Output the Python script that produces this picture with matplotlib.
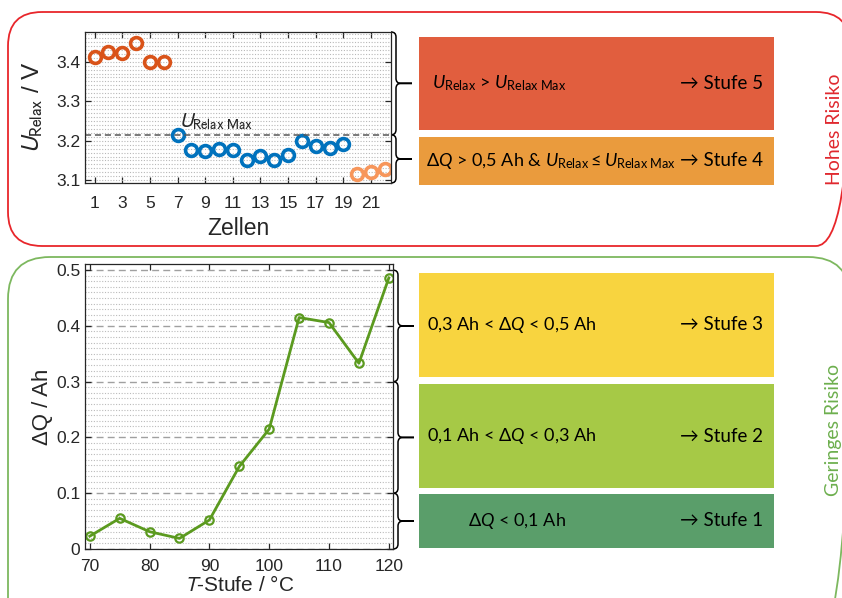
import numpy as np
import matplotlib.pyplot as plt
from matplotlib.patches import FancyBboxPatch, Rectangle, PathPatch
from matplotlib.path import Path

plt.rcParams["font.family"] = ["Liberation Sans", "DejaVu Sans"]
plt.rcParams["mathtext.fontset"] = "custom"
plt.rcParams["mathtext.rm"] = "Lato"
plt.rcParams["mathtext.it"] = "Lato:italic"

# Daten: U_Relax pro Zelle
zellen_hoch = [1, 2, 3, 4, 5, 6]
u_hoch = [3.411, 3.425, 3.421, 3.446, 3.398, 3.399]
zellen_mitte = [7, 8, 9, 10, 11, 12, 13, 14, 15, 16, 17, 18, 19]
u_mitte = [3.214, 3.176, 3.174, 3.180, 3.176, 3.152, 3.161, 3.151, 3.164,
           3.200, 3.187, 3.181, 3.192]
zellen_tief = [20, 21, 22]
u_tief = [3.116, 3.120, 3.128]
u_relax_max = 3.215

# Daten: Delta Q über T-Stufe
t_stufe = [70, 75, 80, 85, 90, 95, 100, 105, 110, 115, 120]
delta_q = [0.023, 0.055, 0.031, 0.019, 0.052, 0.148, 0.215, 0.415, 0.406, 0.333, 0.486]
dq_grenzen = [0.5, 0.3, 0.1, 0.0]

W, H = 842, 598
fig = plt.figure(figsize=(W / 100, H / 100), dpi=100)

# Overlay in Pixelkoordinaten (y nach unten)
ov = fig.add_axes([0, 0, 1, 1], zorder=0)
ov.set_xlim(0, W)
ov.set_ylim(H, 0)
ov.axis("off")

dunkel = "#262626"


def style_axes(ax, xpad):
    ax.tick_params(which="both", direction="in", top=True, right=True,
                   labelsize=12.5, colors=dunkel, width=0.9)
    ax.tick_params(which="major", length=4)
    ax.tick_params(which="minor", length=0)
    ax.tick_params(axis="x", pad=xpad)
    for s in ax.spines.values():
        s.set_color(dunkel)
        s.set_linewidth(0.9)


# 1. U_Relax über Zellen
ax1 = fig.add_axes([85 / W, 1 - 183 / H, 306 / W, 151 / H], zorder=1)
mk = dict(ls="none", marker="o", mfc="none", mew=2.6, ms=8.5)
ax1.plot(zellen_hoch, u_hoch, mec="#D95319", **mk)
ax1.plot(zellen_mitte, u_mitte, mec="#0072BD", **mk)
ax1.plot(zellen_tief, u_tief, mec="#F7965B", **mk)
ax1.axhline(u_relax_max, color="#555555", ls=(0, (4, 2.5)), lw=1.1)
ax1.text(7.1, u_relax_max + 0.007, r"$U_{\mathrm{Relax\ Max}}$", fontsize=14.5,
         math_fontfamily="stixsans", color=dunkel, va="bottom")
ax1.set_xlim(0.3, 22.45)
ax1.set_ylim(3.093, 3.475)
ax1.set_xticks(range(1, 22, 2))
ax1.set_yticks([3.1, 3.2, 3.3, 3.4])
ax1.set_yticks(np.arange(3.10, 3.475, 0.01), minor=True)
ax1.grid(which="both", axis="y", ls=(0, (1, 1.5)), color="#b8b8b8", lw=0.8)
style_axes(ax1, 9)
ax1.set_xlabel("Zellen", fontsize=16.5, color=dunkel, labelpad=5)
ax1.set_ylabel(r"$U_{\mathrm{Relax}}$ / V", fontsize=17.5, color=dunkel,
               math_fontfamily="stixsans", labelpad=8)

# 2. Delta Q über T-Stufe
ax2 = fig.add_axes([85 / W, 1 - 549 / H, 308 / W, 285 / H], zorder=1)
ax2.plot(t_stufe, delta_q, "-o", color="#5B9A1F", lw=2, ms=6, mfc="none", mew=1.6)
ax2.set_xlim(69.2, 120.7)
ax2.set_ylim(0, 0.511)
ax2.set_xticks([70, 80, 90, 100, 110, 120])
ax2.set_yticks([0, 0.1, 0.2, 0.3, 0.4, 0.5])
ax2.set_yticklabels(["0", "0.1", "0.2", "0.3", "0.4", "0.5"])
ax2.set_yticks(np.arange(0, 0.51, 0.01), minor=True)
ax2.grid(which="minor", axis="y", ls=(0, (1, 1.5)), color="#bbbbbb", lw=0.8)
ax2.grid(which="major", axis="y", ls=(0, (5, 3)), color="#a0a0a0", lw=1)
style_axes(ax2, 7)
ax2.set_xlabel(r"$T$-Stufe / °C", fontsize=15, color=dunkel,
               math_fontfamily="stixsans", labelpad=1)
ax2.set_ylabel("ΔQ / Ah", fontsize=16, color=dunkel, labelpad=2)


# Rahmen
ov.add_patch(FancyBboxPatch((8, 12), 842, 234, boxstyle="round,pad=0,rounding_size=34",
                            fc="none", ec="#E8262B", lw=1.3))
ov.add_patch(FancyBboxPatch((8, 257), 842, 400, boxstyle="round,pad=0,rounding_size=42",
                            fc="none", ec="#7DB85F", lw=1.3))


def to_px(ax, v):
    return H - ax.transData.transform((0, v))[1]


def brace(x, ya, yb, w=5, tip=16, r=5):
    ym = (ya + yb) / 2
    verts = [(x, ya), (x + w, ya), (x + w, ya + r),
             (x + w, ym - r), (x + w, ym), (x + w + 5, ym),
             (x + w + tip, ym), (x + w + 5, ym),
             (x + w, ym), (x + w, ym + r),
             (x + w, yb - r), (x + w, yb), (x, yb)]
    codes = [Path.MOVETO, Path.CURVE3, Path.CURVE3,
             Path.LINETO, Path.CURVE3, Path.CURVE3,
             Path.LINETO, Path.LINETO,
             Path.CURVE3, Path.CURVE3,
             Path.LINETO, Path.CURVE3, Path.CURVE3]
    ov.add_patch(PathPatch(Path(verts, codes), fc="none", ec="black", lw=1.1))


yl1 = ax1.get_ylim()
brace(391, to_px(ax1, yl1[1]), to_px(ax1, u_relax_max))
brace(391, to_px(ax1, u_relax_max), to_px(ax1, yl1[0]))
for a, b in zip(dq_grenzen[:-1], dq_grenzen[1:]):
    brace(393, to_px(ax2, a), to_px(ax2, b))

# Stufen-Kästen
box_y = [(37, 130), (137, 185), (273, 377), (384, 488), (494, 548)]
box_farben = ["#E15E3E", "#EA9B3D", "#F8D43F", "#A6C946", "#5A9E6A"]
box_texte = [r"$U_{\mathrm{Relax}}$ > $U_{\mathrm{Relax\ Max}}$",
             r"Δ$Q$ > 0,5 Ah & $U_{\mathrm{Relax}}\leq U_{\mathrm{Relax\ Max}}$",
             r"0,3 Ah < Δ$Q$ < 0,5 Ah",
             r"0,1 Ah < Δ$Q$ < 0,3 Ah",
             r"Δ$Q$ < 0,1 Ah"]
box_text_x = [432, 426, 427, 427, 468]
stufen = ["Stufe 5", "Stufe 4", "Stufe 3", "Stufe 2", "Stufe 1"]

for (y0, y1), c, t, tx, s in zip(box_y, box_farben, box_texte, box_text_x, stufen):
    ov.add_patch(Rectangle((419, y0), 355, y1 - y0, fc=c, ec="none"))
    ym = (y0 + y1) / 2
    ov.text(tx, ym, t, fontsize=13, family="Lato", va="center", ha="left", color="black")
    ov.text(763, ym, "→ " + s, fontsize=13.5, family=["Lato", "DejaVu Sans"],
            va="center", ha="right", color="black")

ov.text(834, 129, "Hohes Risiko", rotation=90, fontsize=14, family="Lato",
        color="#E0282E", ha="center", va="center")
ov.text(834, 430, "Geringes Risiko", rotation=90, fontsize=14, family="Lato",
        color="#6DAF4E", ha="center", va="center")

fig.savefig("out.png", dpi=100)
